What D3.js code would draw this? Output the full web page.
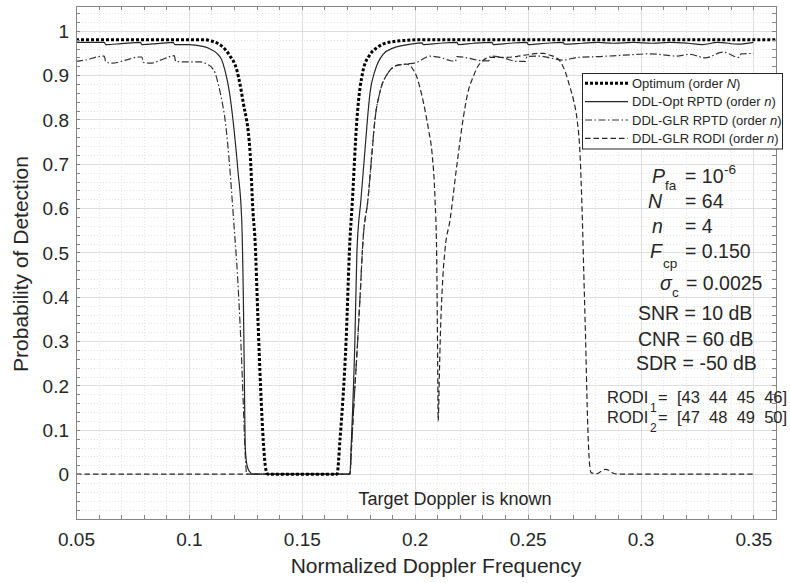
<!DOCTYPE html>
<html><head><meta charset="utf-8">
<script src="https://cdn.jsdelivr.net/npm/d3@7"></script>
<style>
body{margin:0;background:#fff}
svg text{font-family:"Liberation Sans",Arial,Helvetica,sans-serif;fill:#262626}
</style></head>
<body><svg id="c" width="790" height="583"></svg>
<script>
// ---------------- data ----------------
const optFreq=[0.05,0.08,0.1062,0.110,0.1151,0.118,0.1213,0.124,0.1271,0.1284,0.1293,0.1305,0.1318,0.133,0.1341,0.135,0.1656,0.1669,0.1696,0.1713,0.1722,0.1744,0.1771,0.18,0.1833,0.1877,0.195,0.2023,0.36];
const optPd=[0.98,0.98,0.98,0.977,0.963,0.945,0.91,0.84,0.725,0.59,0.527,0.36,0.19,0.07,0.01,0,0,0.077,0.30,0.527,0.60,0.80,0.91,0.945,0.962,0.973,0.978,0.98,0.98];

const rptdOptFreq=[0.05,0.0625,0.0632,0.07,0.0785,0.0792,0.086,0.093,0.0938,0.100,0.106,0.109,0.1124,0.1145,0.116,0.118,0.1195,0.1217,0.1234,0.1241,0.1246,0.1249,0.1253,0.126,0.127,0.128,0.1713,0.172,0.1735,0.1744,0.1762,0.1778,0.1789,0.1802,0.1824,0.186,0.1904,0.195,0.2032,0.2038,0.211,0.2187,0.2193,0.226,0.2342,0.2348,0.242,0.2497,0.2503,0.258,0.2657,0.2663,0.274,0.281,0.288,0.297,0.305,0.313,0.321,0.3275,0.334,0.3435,0.35];
const rptdOptPd=[0.974,0.974,0.969,0.971,0.974,0.969,0.971,0.974,0.969,0.969,0.965,0.960,0.949,0.935,0.91,0.86,0.80,0.685,0.572,0.40,0.20,0.07,0.035,0.015,0.005,0,0,0.08,0.30,0.50,0.62,0.72,0.79,0.86,0.91,0.947,0.961,0.967,0.973,0.969,0.972,0.974,0.969,0.972,0.974,0.969,0.972,0.974,0.969,0.972,0.974,0.970,0.972,0.974,0.972,0.974,0.972,0.974,0.972,0.969,0.974,0.970,0.974];

const rptdGlrFreq=[0.05,0.055,0.060,0.0625,0.0632,0.066,0.072,0.078,0.0792,0.0798,0.083,0.089,0.0935,0.0942,0.098,0.1049,0.108,0.110,0.1116,0.113,0.1145,0.116,0.1182,0.1197,0.1215,0.123,0.124,0.1248,0.1256,0.1713,0.172,0.1732,0.1745,0.1758,0.1771,0.1793,0.181,0.1824,0.1846,0.1882,0.1922,0.1966,0.201,0.2068,0.2112,0.2156,0.218,0.2187,0.2232,0.2289,0.2328,0.2334,0.2391,0.2453,0.249,0.2497,0.2555,0.2599,0.2657,0.2719,0.2821,0.2922,0.3042,0.31,0.316,0.322,0.3286,0.3366,0.3435,0.3445,0.35];
const rptdGlrPd=[0.931,0.935,0.942,0.943,0.930,0.927,0.934,0.941,0.941,0.929,0.927,0.937,0.944,0.931,0.930,0.930,0.925,0.918,0.905,0.88,0.845,0.80,0.685,0.58,0.45,0.30,0.17,0.06,0,0,0.06,0.17,0.28,0.40,0.527,0.62,0.72,0.80,0.862,0.905,0.922,0.925,0.929,0.943,0.940,0.933,0.931,0.942,0.939,0.933,0.932,0.943,0.939,0.931,0.931,0.942,0.943,0.939,0.934,0.940,0.942,0.945,0.948,0.946,0.943,0.947,0.939,0.952,0.940,0.948,0.949];

const rodiFreq=[0.05,0.1256,0.1713,0.172,0.1732,0.1745,0.1758,0.1771,0.1793,0.181,0.1824,0.1846,0.1882,0.1922,0.1966,0.199,0.201,0.2028,0.2046,0.2062,0.2077,0.209,0.2097,0.2101,0.2104,0.2109,0.2114,0.2122,0.2135,0.2156,0.2185,0.2214,0.2235,0.2258,0.228,0.2302,0.2334,0.24,0.245,0.25,0.2545,0.257,0.26,0.2625,0.2643,0.2665,0.2688,0.2705,0.2719,0.2732,0.2741,0.2749,0.2757,0.2764,0.277,0.2776,0.2782,0.2805,0.2825,0.2845,0.2865,0.288,0.29,0.35];
const rodiPd=[0,0,0,0.06,0.17,0.28,0.40,0.527,0.62,0.72,0.80,0.862,0.905,0.922,0.925,0.915,0.895,0.862,0.82,0.775,0.723,0.62,0.50,0.30,0.12,0.22,0.32,0.42,0.51,0.572,0.69,0.80,0.86,0.895,0.92,0.933,0.94,0.94,0.942,0.946,0.949,0.949,0.945,0.94,0.932,0.91,0.872,0.84,0.80,0.723,0.60,0.45,0.30,0.15,0.06,0.015,0.003,0.001,0.006,0.011,0.007,0.002,0,0];

const xTickValues=[0.05,0.1,0.15,0.2,0.25,0.3,0.35];
const xTickLabels=["0.05","0.1","0.15","0.2","0.25","0.3","0.35"];
const yTickValues=[0,0.1,0.2,0.3,0.4,0.5,0.6,0.7,0.8,0.9,1];
const yTickLabels=["0","0.1","0.2","0.3","0.4","0.5","0.6","0.7","0.8","0.9","1"];
const legendNames=["Optimum (order |N|)","DDL-Opt RPTD (order |n|)","DDL-GLR RPTD (order |n|)","DDL-GLR RODI (order |n|)"];

// ---------------- layout ----------------
const L=76,R=776,T=6,B=518.5;
const x=d3.scaleLinear().domain([0.05,0.36]).range([L,R]);
const y=d3.scaleLinear().domain([-0.1,1.056]).range([B,T]);
const svg=d3.select("#c");
const FONT='"Liberation Sans",Arial,Helvetica,sans-serif';

const xMinor=d3.range(5,37).map(i=>i/100);
const yMinor=d3.range(-5,53).map(i=>+(i/50).toFixed(2));
const yMajorGrid=[-0.1].concat(yTickValues);

// grid
function gridStyle(s,color,dash){
  s.select(".domain").remove();
  s.selectAll(".tick line").attr("stroke",color).attr("stroke-dasharray",dash).attr("shape-rendering","crispEdges");
  s.selectAll(".tick text").remove();
}
svg.append("g").attr("transform",`translate(0,${B})`)
  .call(d3.axisBottom(x).tickValues(xMinor).tickSize(-(B-T)).tickFormat(""))
  .call(s=>gridStyle(s,"#e6e6e6","1,2"));
svg.append("g").attr("transform",`translate(${L},0)`)
  .call(d3.axisLeft(y).tickValues(yMinor).tickSize(-(R-L)).tickFormat(""))
  .call(s=>gridStyle(s,"#e6e6e6","1,2"));
svg.append("g").attr("transform",`translate(0,${B})`)
  .call(d3.axisBottom(x).tickValues(xTickValues).tickSize(-(B-T)).tickFormat(""))
  .call(s=>gridStyle(s,"#dedede",null));
svg.append("g").attr("transform",`translate(${L},0)`)
  .call(d3.axisLeft(y).tickValues(yMajorGrid).tickSize(-(R-L)).tickFormat(""))
  .call(s=>gridStyle(s,"#dedede",null));

// clip
svg.append("clipPath").attr("id","clip").append("rect").attr("x",L).attr("y",T).attr("width",R-L).attr("height",B-T);

const series=[
  {f:optFreq,p:optPd,color:"#000",w:3,dash:"3,2"},
  {f:rptdOptFreq,p:rptdOptPd,color:"#262626",w:1.2,dash:null},
  {f:rptdGlrFreq,p:rptdGlrPd,color:"#333",w:1.2,dash:"7,2.5,1.5,2.5"},
  {f:rodiFreq,p:rodiPd,color:"#262626",w:1.2,dash:"5.5,3"}
];
const line=d3.line().x(d=>x(d[0])).y(d=>y(d[1])).curve(d3.curveMonotoneX);
const cg=svg.append("g").attr("clip-path","url(#clip)");
[series[3],series[2],series[1],series[0]].forEach(s=>{
  cg.append("path").datum(s.f.map((v,i)=>[v,s.p[i]]))
    .attr("d",line).attr("fill","none").attr("stroke",s.color)
    .attr("stroke-width",s.w).attr("stroke-dasharray",s.dash);
});

// axes box with inward minor ticks
const AX="#858585";
function axStyle(s){
  s.select(".domain").attr("stroke",AX).attr("shape-rendering","crispEdges");
  s.selectAll(".tick line").attr("stroke",AX).attr("shape-rendering","crispEdges");
  s.selectAll(".tick text").remove();
}
svg.append("g").attr("transform",`translate(0,${B})`).call(d3.axisBottom(x).tickValues(xMinor).tickSize(-4).tickSizeOuter(0).tickFormat("")).call(axStyle);
svg.append("g").attr("transform",`translate(0,${T})`).call(d3.axisTop(x).tickValues(xMinor).tickSize(-4).tickSizeOuter(0).tickFormat("")).call(axStyle);
svg.append("g").attr("transform",`translate(${L},0)`).call(d3.axisLeft(y).tickValues(yMinor).tickSize(-4).tickSizeOuter(0).tickFormat("")).call(axStyle);
svg.append("g").attr("transform",`translate(${R},0)`).call(d3.axisRight(y).tickValues(yMinor).tickSize(-4).tickSizeOuter(0).tickFormat("")).call(axStyle);

// tick labels
svg.append("g").attr("transform",`translate(0,${B})`)
  .call(d3.axisBottom(x).tickValues(xTickValues).tickSize(0).tickFormat((d,i)=>xTickLabels[i]))
  .call(s=>{s.select(".domain").remove();
    s.selectAll(".tick text").attr("y",546-B).attr("dy",null).attr("font-size",19).attr("font-family",FONT).attr("fill","#262626");});
svg.append("g").attr("transform",`translate(${L},0)`)
  .call(d3.axisLeft(y).tickValues(yTickValues).tickSize(0).tickFormat((d,i)=>yTickLabels[i]))
  .call(s=>{s.select(".domain").remove();
    s.selectAll(".tick text").attr("x",-7).attr("dy","6.8").attr("font-size",19).attr("font-family",FONT).attr("fill","#262626");});

// axis titles
svg.append("text").attr("x",436).attr("y",573).attr("text-anchor","middle").attr("font-size",21).text("Normalized Doppler Frequency");
svg.append("text").attr("transform","translate(28,264) rotate(-90)").attr("text-anchor","middle").attr("font-size",21).text("Probability of Detection");
svg.append("text").attr("x",455).attr("y",505).attr("text-anchor","middle").attr("font-size",18).text("Target Doppler is known");

// legend
const lg=svg.append("g");
lg.append("rect").attr("x",582.5).attr("y",73.5).attr("width",200).attr("height",75.5).attr("fill","#fff").attr("stroke","#262626").attr("stroke-width",1);
const rowsY=[83.3,101.7,120,138.3];
legendNames.forEach((name,i)=>{
  const s=series[i];
  lg.append("line").attr("x1",585).attr("x2",628).attr("y1",rowsY[i]).attr("y2",rowsY[i])
    .attr("stroke",s.color).attr("stroke-width",s.w).attr("stroke-dasharray",s.dash);
  const parts=name.split("|");
  const t=lg.append("text").attr("x",632).attr("y",rowsY[i]+4.6).attr("font-size",13);
  t.append("tspan").text(parts[0]);
  t.append("tspan").attr("font-style","italic").text(parts[1]);
  t.append("tspan").text(parts[2]);
});

// annotations
const an=svg.append("g");
function tx(xp,yp,size,str,italic){
  const t=an.append("text").attr("x",xp).attr("y",yp).attr("font-size",size).attr("xml:space","preserve").style("white-space","pre").text(str);
  if(italic) t.attr("font-style","italic");
  return t;
}
const M=19.5,S=13.5;
tx(652,183,M,"P",true); tx(665,190,S,"fa"); tx(685,183,M,"= 10"); tx(724,174,S,"-6");
tx(648,208,M,"N",true); tx(685,208,M,"= 64");
tx(652,233,M,"n",true); tx(685,233,M,"= 4");
tx(650,258,M,"F",true); tx(663,268,S,"cp"); tx(685,258,M,"= 0.150");
tx(660,290,M,"σ",true); tx(672,297,S,"c"); tx(686,290,M,"= 0.0025");
tx(638,320,M,"SNR = 10 dB");
tx(638,346,M,"CNR = 60 dB");
tx(636,370,M,"SDR = -50 dB");
tx(607,403,16.5,"RODI"); tx(650,412,12,"1"); tx(658,403,16.5,"="); tx(677,403,16.5,"[43  44  45  46]");
tx(607,423,16.5,"RODI"); tx(650,432,12,"2"); tx(658,423,16.5,"="); tx(677,423,16.5,"[47  48  49  50]");
</script></body></html>
